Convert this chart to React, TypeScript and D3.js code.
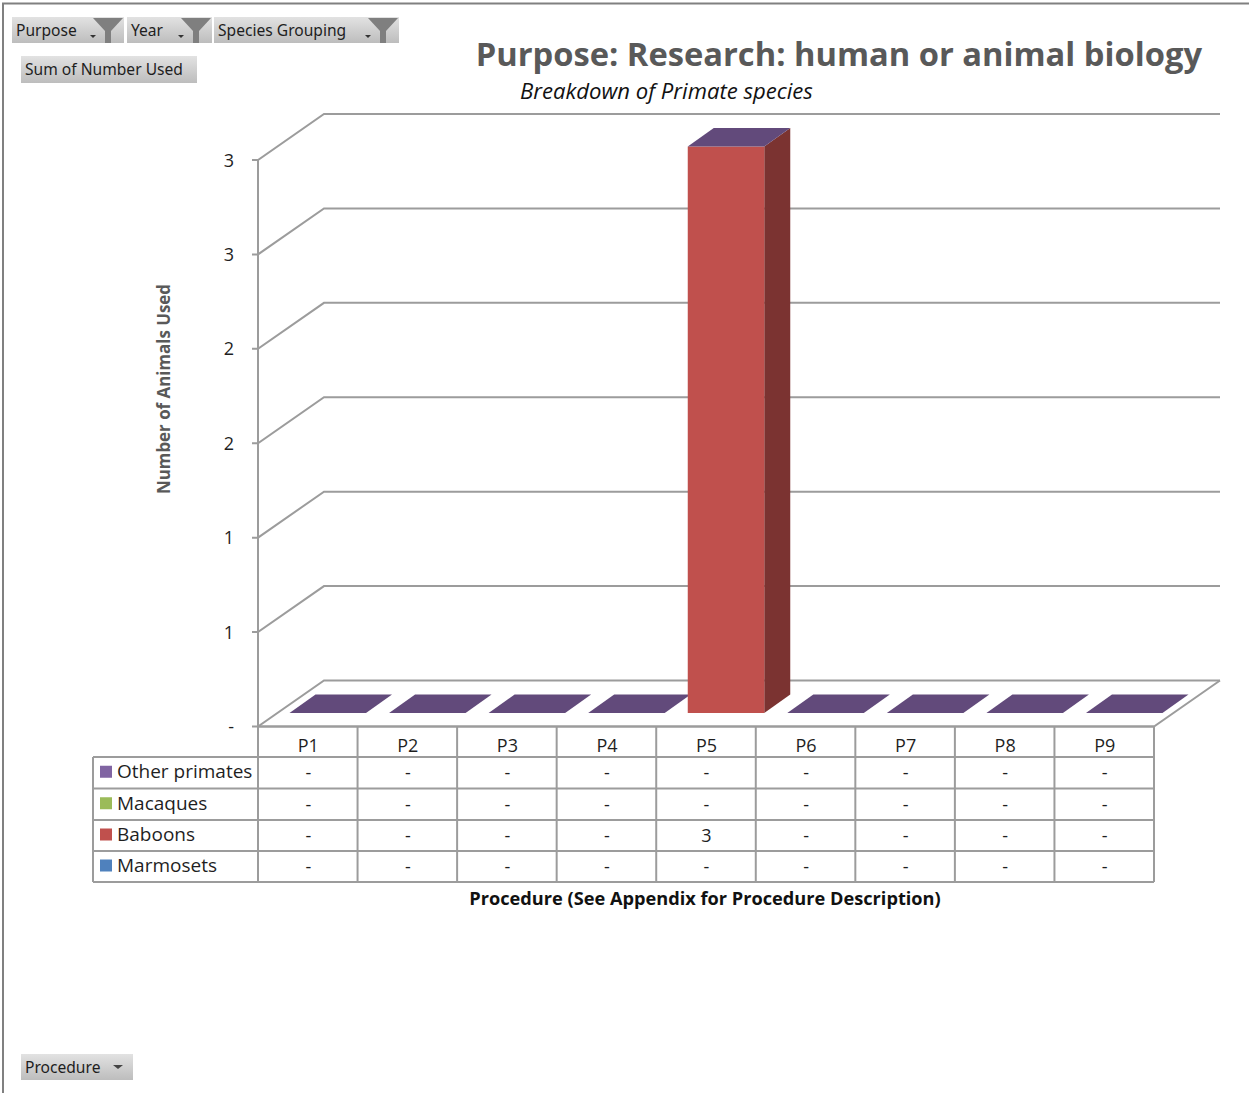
import React from "react";
import * as d3 from "d3";

const procedures = ["P1", "P2", "P3", "P4", "P5", "P6", "P7", "P8", "P9"];
const marmosets = [0, 0, 0, 0, 0, 0, 0, 0, 0];
const baboons = [0, 0, 0, 0, 3, 0, 0, 0, 0];
const macaques = [0, 0, 0, 0, 0, 0, 0, 0, 0];
const otherPrimates = [0, 0, 0, 0, 0, 0, 0, 0, 0];
const valueTicks = [0, 0.5, 1, 1.5, 2, 2.5, 3];
const tableRows = [
  { name: "Other primates", values: otherPrimates, color: "#8064a2" },
  { name: "Macaques", values: macaques, color: "#9bbb59" },
  { name: "Baboons", values: baboons, color: "#c0504d" },
  { name: "Marmosets", values: marmosets, color: "#4f81bd" },
];
const stackOrder = ["Marmosets", "Baboons", "Macaques", "Other primates"];

const FONT = "'Open Sans', 'Noto Sans', sans-serif";
const GRID = "#9c9c9c";
const INK = "#1f1f1f";

// Projection of the 3D chart box
const DEPTH_X = 66;
const DEPTH_Y = -46;
const left = 258;
const right = 1154;
const rowEdges = [726.5, 757, 788.5, 820, 851, 882];
const tableLeft = 93;

const x = d3.scaleBand<string>().domain(procedures).range([left, right]).paddingInner(0).paddingOuter(0);
const y = d3.scaleLinear().domain([0, 3]).range([726.5, 160]);
const BAR_W = 76.5;
const BAR_OFF_X = 20;
const BAR_OFF_Y = -13.5;
const CAP_X = 26;
const CAP_Y = -18.5;

const tickLabel = (v: number) => (v === 0 ? "-" : String(Math.round(v)));
const cellLabel = (v: number) => (v === 0 ? "-" : d3.format("d")(v));

const rowsByName = new Map(tableRows.map((r) => [r.name, r.values]));
const stackInput = procedures.map((p, i) => {
  const o: Record<string, number | string> = { p };
  stackOrder.forEach((n) => (o[n] = rowsByName.get(n)![i]));
  return o;
});
const stacked = d3.stack<any>().keys(stackOrder)(stackInput);

const poly = (pts: [number, number][]) => pts.map((p) => p.join(",")).join(" ");

function Button({ bx, by, w, h, label, funnel, arrow }: { bx: number; by: number; w: number; h: number; label: string; funnel?: boolean; arrow?: boolean }) {
  const fx = bx + w - 31;
  return (
    <g>
      <rect x={bx} y={by} width={w} height={h} fill="url(#btn)" />
      <text x={bx + 4} y={by + h / 2 + 5.5} fontSize={15.6} fill="#1e1e1e" fontFamily="'Noto Sans', sans-serif">{label}</text>
      {funnel && (
        <g fill="#7f7f7f">
          <polygon points={poly([[fx, by + 1], [fx + 30, by + 1], [fx + 18, by + 14], [fx + 18, by + 26], [fx + 12, by + 26], [fx + 12, by + 14]])} />
          <polygon fill="#333" points={poly([[fx - 3, by + 18], [fx + 3, by + 18], [fx, by + 21]])} />
        </g>
      )}
      {arrow && <polygon fill="#444" points={poly([[bx + w - 20, by + h / 2 - 2], [bx + w - 10, by + h / 2 - 2], [bx + w - 15, by + h / 2 + 2]])} />}
    </g>
  );
}

export default function App() {
  return (
    <svg width={1249} height={1093} style={{ position: "absolute", left: 0, top: 0, display: "block" }}>
      <defs>
        <linearGradient id="btn" x1="0" x2="0" y1="0" y2="1">
          <stop offset="0" stopColor="#e2e2e2" />
          <stop offset="1" stopColor="#bdbdbd" />
        </linearGradient>
      </defs>
      <rect width={1249} height={1093} fill="#fff" />
      <path d="M3,1093V3.5H1249" fill="none" stroke="#808080" strokeWidth={2} />

      <Button bx={12} by={17} w={112} h={26} label="Purpose" funnel />
      <Button bx={127} by={17} w={85} h={26} label="Year" funnel />
      <Button bx={214} by={17} w={185} h={26} label="Species Grouping" funnel />
      <Button bx={21} by={56} w={176} h={27} label="Sum of Number Used" />
      <Button bx={21} by={1054} w={112} h={26} label="Procedure" arrow />

      <text x={1202} y={65.5} textAnchor="end" fontSize={32.7} fontWeight={700} fill="#595959" fontFamily={FONT}>Purpose: Research: human or animal biology</text>
      <text x={520} y={99} fontSize={22.1} fontStyle="italic" fill="#111" fontFamily={FONT}>Breakdown of Primate species</text>

      {/* Walls and gridlines */}
      {valueTicks.map((t) => (
        <g key={t} stroke={GRID} strokeWidth={2} fill="none">
          <path d={`M${left - 6},${y(t)}H${left}L${left + DEPTH_X},${y(t) + DEPTH_Y}H1220`} />
        </g>
      ))}
      <path d={`M${left},${y(3)}V${y(0)}H${right}L1220,${y(0) + DEPTH_Y}`} fill="none" stroke={GRID} strokeWidth={2} />

      {valueTicks.map((t) => (
        <text key={t} x={234} y={y(t) + 6.5} textAnchor="end" fontSize={18} fill={INK} fontFamily={FONT}>{tickLabel(t)}</text>
      ))}
      <text transform="translate(170,389) rotate(-90)" textAnchor="middle" fontSize={16.9} fontWeight={700} fill="#595959" fontFamily={FONT}>Number of Animals Used</text>

      {/* Columns: stacked boxes with a cap on the top series */}
      {procedures.map((p, i) => {
        const x0 = x(p)! + (x.bandwidth() - BAR_W) / 2 + BAR_OFF_X;
        const x1 = x0 + BAR_W;
        const top = y(stacked[stacked.length - 1][i][1]) + BAR_OFF_Y;
        return (
          <g key={p}>
            {stacked.map((s, k) => {
              const [a, b] = s[i];
              if (a === b) return null;
              const fill = tableRows.find((r) => r.name === s.key)!.color;
              const ya = y(a) + BAR_OFF_Y;
              const yb = y(b) + BAR_OFF_Y;
              return (
                <g key={k}>
                  <polygon fill={d3.color(fill)!.darker(1.25).formatHex()} points={poly([[x1, ya], [x1 + CAP_X, ya + CAP_Y], [x1 + CAP_X, yb + CAP_Y], [x1, yb]])} />
                  <rect x={x0} y={yb} width={BAR_W} height={ya - yb} fill={fill} />
                </g>
              );
            })}
            <polygon fill="#624a7b" points={poly([[x0, top], [x1, top], [x1 + CAP_X, top + CAP_Y], [x0 + CAP_X, top + CAP_Y]])} />
          </g>
        );
      })}

      {/* Data table */}
      <g stroke={GRID} strokeWidth={2} fill="none">
        {rowEdges.map((ry, i) => (
          <path key={ry} d={`M${i === 0 ? left : tableLeft},${ry}H${right}`} />
        ))}
        <path d={`M${tableLeft},${rowEdges[1]}V${rowEdges[5]}`} />
        {[...procedures.map((p) => x(p)!), right].map((cx) => (
          <path key={cx} d={`M${cx},${rowEdges[0]}V${rowEdges[5]}`} />
        ))}
      </g>
      {procedures.map((p) => (
        <text key={p} x={x(p)! + x.bandwidth() / 2 + 0.5} y={752} textAnchor="middle" fontSize={18} fill={INK} fontFamily={FONT}>{p}</text>
      ))}
      {tableRows.map((r, k) => {
        const mid = (rowEdges[k + 1] + rowEdges[k + 2]) / 2;
        return (
          <g key={r.name}>
            <rect x={100} y={mid - 7} width={12} height={12} fill={r.color} />
            <text x={117} y={mid + 5.5} fontSize={19} fill={INK} fontFamily={FONT}>{r.name}</text>
            {r.values.map((v, i) => (
              <text key={i} x={x(procedures[i])! + x.bandwidth() / 2 + 0.5} y={mid + 6.5} textAnchor="middle" fontSize={18} fill={INK} fontFamily={FONT}>{cellLabel(v)}</text>
            ))}
          </g>
        );
      })}
      <text x={705} y={905} textAnchor="middle" fontSize={18.2} fontWeight={700} fill="#111" fontFamily={FONT}>Procedure (See Appendix for Procedure Description)</text>
    </svg>
  );
}
